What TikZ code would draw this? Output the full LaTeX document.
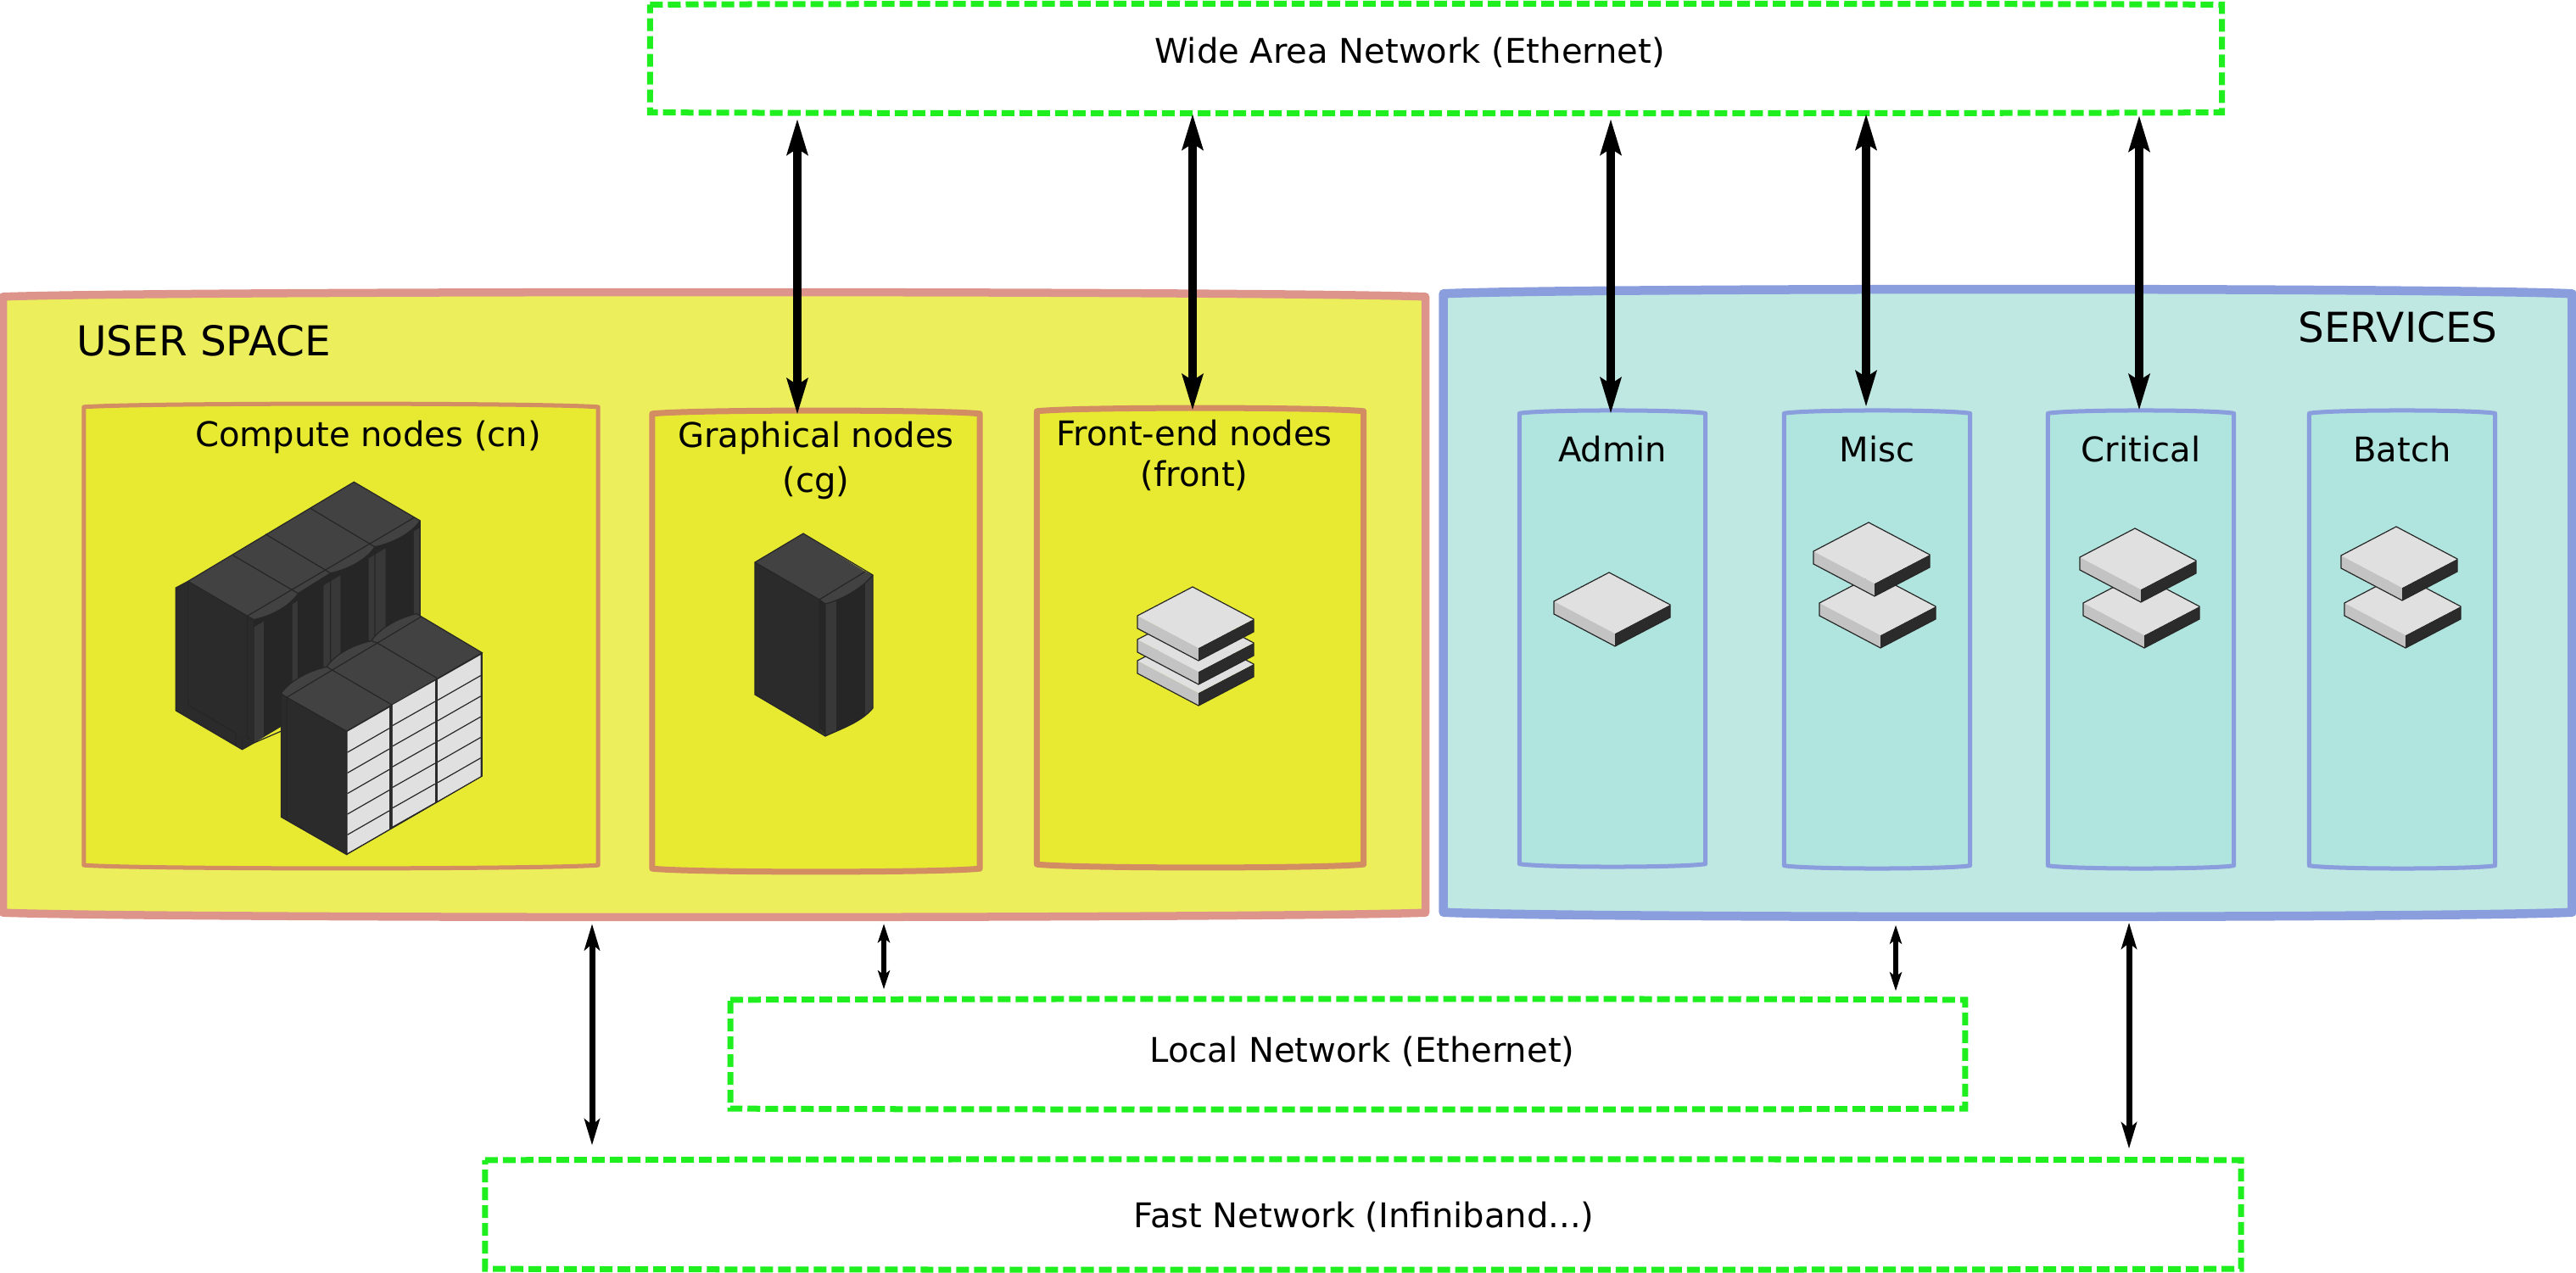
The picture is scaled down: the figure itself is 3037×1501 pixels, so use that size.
\documentclass[tikz,border=0pt]{standalone}
\usepackage{fontspec}
\setmainfont{DejaVu Sans}
\usetikzlibrary{arrows.meta,calc}
\definecolor{usrfill}{HTML}{ECEE5C}
\definecolor{usrline}{HTML}{DD958B}
\definecolor{usrbox}{HTML}{E7EA30}
\definecolor{usrboxline}{HTML}{D38D62}
\definecolor{srvfill}{HTML}{BFE8E3}
\definecolor{srvline}{HTML}{8A9EDE}
\definecolor{srvbox}{HTML}{B0E4DE}
\definecolor{netgreen}{HTML}{1FEE1F}
\definecolor{caseTop}{HTML}{424242}
\definecolor{caseSide}{HTML}{2B2B2B}
\definecolor{caseFront}{HTML}{262626}
\definecolor{caseStrip}{HTML}{383838}
\definecolor{bladeTop}{HTML}{E0E0E0}
\definecolor{bladeLeft}{HTML}{C3C3C3}
\tikzset{
	usrspace/.style={draw=usrline, fill=usrfill, line width=.095cm, line join=round},
	srvspace/.style={draw=srvline, fill=srvfill, line width=.105cm, line join=round},
	usrgroup/.style={draw=usrboxline, fill=usrbox, line width=.05cm, line join=round},
	srvgroup/.style={draw=srvline, fill=srvbox, line width=.05cm, line join=round},
	netbox/.style={draw=netgreen, line width=.07cm, dash pattern=on .15cm off .06cm},
	boxtext/.style={font=\fontsize{11.4}{13.7}\selectfont, align=center},
	bigtext/.style={font=\fontsize{13.8}{16}\selectfont},
	wanlink/.style={<->, >={Stealth[length=.42cm,width=.24cm,inset=.07cm]}, line width=.1cm},
	fastlink/.style={<->, >={Stealth[length=.31cm,width=.18cm,inset=.07cm]}, line width=.07cm},
	lanlink/.style={<->, >={Stealth[length=.22cm,width=.14cm,inset=.05cm]}, line width=.06cm},
	edgeline/.style={draw=black!85, line width=.012cm},
	pics/blade/.style={code={
		\fill[bladeLeft] (0,0) -- (72,38) -- (72,53) -- (0,15) -- cycle;
		\fill[caseSide] (72,38) -- (137,4) -- (137,19) -- (72,53) -- cycle;
		\fill[bladeTop] (0,0) -- (65,-34) -- (137,4) -- (72,38) -- cycle;
		\draw[edgeline] (0,0) -- (65,-34) -- (137,4) -- (137,19) -- (72,53) -- (0,15) -- cycle;
	}},
}
% box with straight sides and bowed top and bottom, drawn on a named node
\newcommand{\bowbox}[3]{%
	\draw[#1] ([yshift=-#3 cm]#2.north west) .. controls ($(#2.north west)!.12!(#2.north east)$) and ($(#2.north west)!.88!(#2.north east)$) .. ([yshift=-#3 cm]#2.north east) -- ([yshift=#3 cm]#2.south east) .. controls ($(#2.south west)!.88!(#2.south east)$) and ($(#2.south west)!.12!(#2.south east)$) .. ([yshift=#3 cm]#2.south west) -- cycle;}
\begin{document}
\begin{tikzpicture}[x=.01cm, y=-.01cm, every node/.style={inner sep=0pt, outer sep=0pt}]
	\useasboundingbox (0,0) rectangle (3037,1501);
	% networks
	\node[minimum width=18.52cm, minimum height=1.3cm] (wan) at (1693,69) {};
	\node[minimum width=14.55cm, minimum height=1.31cm] (lan) at (1589,1243) {};
	\node[minimum width=20.69cm, minimum height=1.31cm] (fast) at (1607,1432) {};
	\foreach \net in {wan,lan,fast}{
		\bowbox{netbox}{\net}{.015}
	}
	\node[boxtext] (wanText) at (1662,62) {Wide Area Network (Ethernet)};
	\node[boxtext] (lanText) at (1606,1240) {Local Network (Ethernet)};
	\node[boxtext] (fastText) at (1608,1435) {Fast Network (Infiniband...)};
	% the two spaces
	\node[minimum width=16.76cm, minimum height=7.40cm] (usr) at (842,713) {};
	\node[minimum width=13.30cm, minimum height=7.43cm] (srv) at (2367,711) {};
	\bowbox{usrspace}{usr}{.07}
	\bowbox{srvspace}{srv}{.07}
	\node[bigtext] (usrText) at (240,402) {USER SPACE};
	\node[bigtext] (srvText) at (2827,386) {SERVICES};
	% user groups
	\node[minimum width=6.06cm, minimum height=5.5cm] (cn) at (402,750) {};
	\node[minimum width=3.86cm, minimum height=5.46cm] (cg) at (962,756) {};
	\node[minimum width=3.85cm, minimum height=5.44cm] (front) at (1415,752) {};
	\bowbox{usrgroup}{cn}{.05}
	\bowbox{usrgroup, line width=.07cm}{cg}{.05}
	\bowbox{usrgroup, line width=.07cm}{front}{.05}
	\node[boxtext] (cnText) at (434,515) {Compute nodes (cn)};
	\node[boxtext] (cgText) at (962,543) {Graphical nodes\\[.04cm](cg)};
	\node[boxtext] (frontText) at (1408,537) {Front-end nodes\\(front)};
	% service groups
	\foreach \grp/\cx/\cy/\boxh/\txt in {admin/1901/753/5.40/Admin, misc/2213/754/5.42/Misc, critical/2524/754/5.42/Critical, batch/2832/754/5.42/Batch}{
		\node[minimum width=2.19cm, minimum height=\boxh cm] (\grp) at (\cx,\cy) {};
		\bowbox{srvgroup}{\grp}{.045}
		\node[boxtext] (\grp Text) at (\cx,530) {\txt};
	}
	% blades
	\foreach \bx/\by in {1341/779, 1341/754, 1341/726, 1832/709, 2145/711, 2138/650, 2456/711, 2452/657, 2764/711, 2760/655}{
		\pic at (\bx,\by) {blade};
	}
	% graphical rack
	\fill[caseSide] (890,663) -- (966,707) -- (966,858) -- (973,868) -- (890,819) -- cycle;
	\fill[caseFront] (966,707) -- (973,712) .. controls (990,708) and (1015,695) .. (1029,678) -- (1029,835) .. controls (1015,852) and (990,860) .. (973,868) -- (966,858) -- cycle;
	\begin{scope}
		\clip (973,712) .. controls (990,708) and (1015,695) .. (1029,678) -- (1029,835) .. controls (1015,852) and (990,860) .. (973,868) -- cycle;
		\fill[caseStrip] (973,660) rectangle (986,880);
		\fill[caseStrip] (1020,660) rectangle (1029,880);
	\end{scope}
	\fill[caseTop] (890,663) -- (947,629) -- (1020,674) -- (1029,678) .. controls (1015,695) and (990,708) .. (973,712) -- (966,707) -- cycle;
	\draw[edgeline] (890,663) -- (947,629) -- (1029,678) -- (1029,835) .. controls (1015,852) and (990,860) .. (973,868) -- (890,819) -- cycle;
	\draw[edgeline] (890,663) -- (966,707) -- (966,860);
	\draw[edgeline] (966,707) -- (1020,674);
	\draw[edgeline] (966,707) -- (973,712) -- (973,868);
	\draw[edgeline] (973,712) .. controls (990,708) and (1015,695) .. (1029,678);
	% compute racks, numbers read off a crop at 3x
	\begin{scope}[shift={(180,540)}, x=.003333cm, y=-.003333cm]
		\fill[caseSide] (82,460) -- (125,437) -- (358,573) -- (358,1010) -- (317,1033) -- (82,895) -- cycle;
		\fill[caseFront] (358,573) .. controls (428,558) and (490,520) .. (515,480) -- (630,408) .. controls (700,393) and (762,355) .. (787,315) .. controls (857,300) and (922,262) .. (947,222) -- (947,659) -- (358,1010) -- cycle;
		\foreach \sa/\sb in {358/393, 495/515, 605/630, 630/665, 765/787, 787/825, 925/947}{
			\fill[caseStrip] (\sa,{600-(\sa-358)*.6}) -- (\sb,{600-(\sb-358)*.6}) -- (\sb,{1010-(\sb-358)*.6}) -- (\sa,{1010-(\sa-358)*.6}) -- cycle;
		}
		\fill[caseTop] (125,437) -- (713,85) -- (947,222) .. controls (922,262) and (857,300) .. (787,315) .. controls (762,355) and (700,393) .. (630,408) -- (515,480) .. controls (490,520) and (428,558) .. (358,573) -- cycle;
		\draw[edgeline] (82,895) -- (82,460) -- (125,437) -- (713,85) -- (947,222) -- (947,659);
		\draw[edgeline] (82,895) -- (317,1033) -- (358,1010) -- (455,968);
		\draw[edgeline] (125,437) -- (125,875) -- (295,975) -- (295,1018);
		\draw[edgeline] (125,437) -- (358,573) -- (358,1010);
		\draw[edgeline] (335,560) -- (335,990) -- (358,1005);
		\draw[edgeline] (317,990) -- (317,1033);
		\draw[edgeline] (335,560) -- (925,212);
		\draw[edgeline] (285,345) -- (515,480) -- (515,917);
		\draw[edgeline] (400,270) -- (630,408) -- (630,845);
		\draw[edgeline] (558,178) -- (787,315) -- (787,752);
		\draw[edgeline] (358,573) .. controls (428,558) and (490,520) .. (515,480);
		\draw[edgeline] (515,480) -- (630,408) .. controls (700,393) and (762,355) .. (787,315) .. controls (857,300) and (922,262) .. (947,222);
		% front row
		\fill[caseSide] (455,835) -- (687,968) -- (687,1405) -- (455,1272) -- cycle;
		\fill[caseSide] (687,968) -- (1167,690) -- (1167,1127) -- (687,1405) -- cycle;
		\fill[caseTop] (455,835) .. controls (480,795) and (547,755) .. (617,740) .. controls (642,700) and (705,663) .. (775,648) .. controls (800,608) and (865,567) .. (935,552) -- (1167,690) -- (687,968) -- cycle;
		\draw[edgeline] (455,835) .. controls (480,795) and (547,755) .. (617,740) .. controls (642,700) and (705,663) .. (775,648) .. controls (800,608) and (865,567) .. (935,552) -- (1167,690) -- (687,968) -- (687,1405) -- (455,1272) -- cycle;
		\draw[edgeline] (475,848) -- (950,563);
		\draw[edgeline] (475,848) -- (687,968);
		\draw[edgeline] (455,835) -- (475,848) -- (475,1282);
		\draw[edgeline] (637,752) -- (848,875);
		\draw[edgeline] (795,655) -- (1007,780);
		\draw[edgeline] (617,740) -- (637,752);
		\draw[edgeline] (775,648) -- (795,655);
		\foreach \xa/\ya/\xb/\yb in {690/970/838/885, 850/875/1000/790, 1010/785/1162/698}{
			\fill[bladeTop] (\xa,\ya) -- (\xb,\yb) -- (\xb,\yb+430) -- (\xa,\ya+430) -- cycle;
			\foreach \row in {1,...,5}{
				\draw[edgeline] (\xa,\ya+\row*73) -- (\xb,\yb+\row*73);
			}
		}
		\draw[edgeline] (687,1405) -- (1167,1127) -- (1167,690);
	\end{scope}
	% links
	\foreach \lx/\grp/\sa/\sb in {940/cg/.06/-.06, 1406/front/0/-.04, 1899/admin/.06/-.05, 2200/misc/0/.03, 2522/critical/.02/-.01}{
		\draw[wanlink, shorten <=\sa cm, shorten >=\sb cm] (\lx,0 |- wan.south) -- (\lx,0 |- \grp.north);
	}
	\draw[fastlink, shorten <=.06cm, shorten >=.16cm] (698,0 |- usr.south) -- (698,0 |- fast.north);
	\draw[fastlink, shorten <=.05cm, shorten >=.12cm] (2510,0 |- srv.south) -- (2510,0 |- fast.north);
	\draw[lanlink, shorten <=.06cm, shorten >=.11cm] (1042,0 |- usr.south) -- (1042,0 |- lan.north);
	\draw[lanlink, shorten <=.08cm, shorten >=.09cm] (2235,0 |- srv.south) -- (2235,0 |- lan.north);
\end{tikzpicture}
\end{document}
